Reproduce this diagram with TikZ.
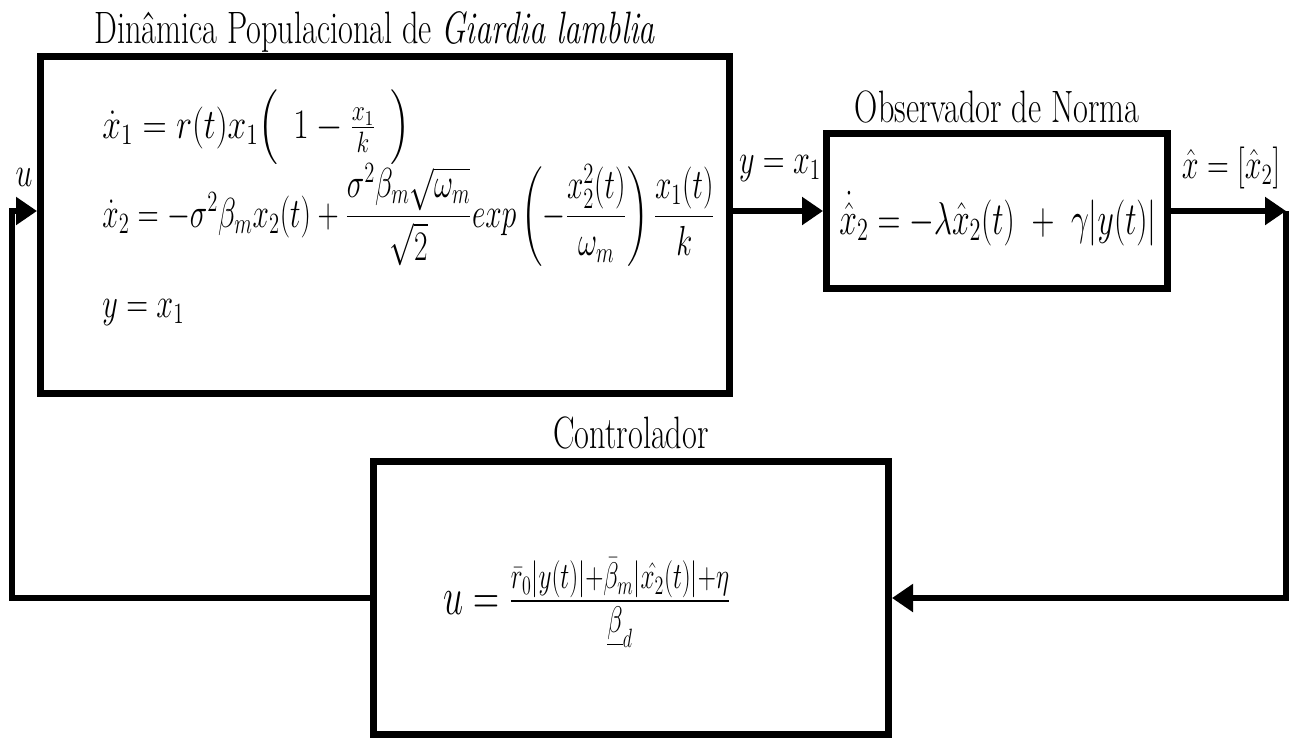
\RequirePackage{fix-cm}
\documentclass[tikz,border=0pt]{standalone}
\usepackage{amsmath}
\usepackage{graphicx}
\usetikzlibrary{arrows.meta}
\newcommand{\nar}[2][0.72]{\scalebox{#1}[1]{#2}}
\begin{document}
\begin{tikzpicture}[x=0.5pt,y=-0.5pt,
  blk/.style={draw, line width=3.5pt, rectangle, inner sep=0pt},
  conn/.style={line width=3pt},
  arr/.style={conn, -{Triangle[length=10.5pt,width=13.5pt]}},
  ttl/.style={inner sep=0pt, anchor=base, font=\fontsize{22.7}{27}\selectfont},
  eq/.style={inner sep=0pt, font=\fontsize{21}{25}\selectfont}]
\useasboundingbox (0,0) rectangle (1295,740);
% blocks
\node[blk, minimum width=344.5pt, minimum height=168.5pt] (plant) at (385,225) {};
\node[blk, minimum width=170.5pt, minimum height=77.5pt] (obs) at (997,211) {};
\node[blk, minimum width=257.5pt, minimum height=136.5pt] (ctrl) at (631,598) {};
% titles
\node[ttl] (t1) at (375,43) {\nar[0.71]{Din\^amica Populacional de \textit{Giardia lamblia}}};
\node[ttl] (t2) at (997,122) {\nar[0.71]{Observador de Norma}};
\node[ttl] (t3) at (631,448) {\nar[0.71]{Controlador}};
% plant equations
\node[eq, anchor=base west] (e1) at (102,138) {\nar[0.80]{$\dot{x}_1 = r(t)x_1\Big(\;\,1-\frac{x_1}{k}\;\,\Big)$}};
\node[eq, anchor=base west] (e2) at (102,227) {\nar[0.70]{$\dot{x}_2 = -\sigma^2\beta_m x_2(t) + \dfrac{\sigma^2\beta_m\sqrt{\omega_m}}{\sqrt{2}}exp\left(-\dfrac{x_2^2(t)}{\omega_m}\right)\dfrac{x_1(t)}{k}$}};
\node[eq, anchor=base west] (e3) at (102,317) {\nar{$y = x_1$}};
% observer equation
\node[eq, anchor=base, font=\fontsize{23}{27}\selectfont] (e4) at (998,234) {\nar[0.69]{$\dot{\hat{x}}_2 = -\lambda\hat{x}_2(t)\ +\ \gamma|y(t)|$}};
% controller equation
\node[eq, font=\fontsize{26.5}{32}\selectfont] (e5) at (587,603) {\nar[0.68]{$u = \frac{\bar{r}_0|y(t)|+\bar{\beta}_m|\hat{x_2}(t)|+\eta}{\underline{\beta}_d}$}};
% signal labels
\node[eq, anchor=base] (lu) at (24,186) {\nar{$u$}};
\node[eq, anchor=base] (ly) at (780,173) {\nar{$y = x_1$}};
\node[eq, anchor=base] (lx) at (1231,178) {\nar{$\hat{x} = [\hat{x}_2]$}};
% connectors
\coordinate (rc) at (1286,211);
\draw[arr] (plant.east |- obs.west) -- (obs.west);
\draw[arr] (obs.east) -- (rc);
\draw[arr] (rc) -- (rc |- ctrl.east) -- (ctrl.east);
\draw[arr] (ctrl.west) -- (12,598) -- (12,211) -- (plant.west |- obs.west);
\end{tikzpicture}
\end{document}
